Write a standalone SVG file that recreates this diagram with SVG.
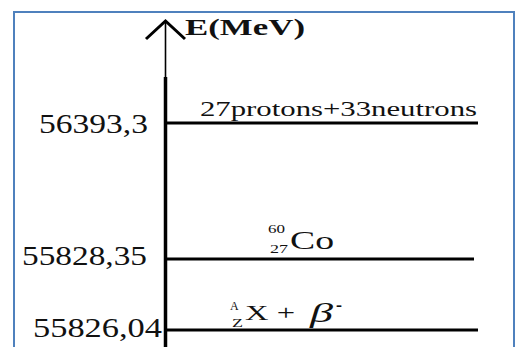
<svg xmlns="http://www.w3.org/2000/svg" width="518" height="347" viewBox="0 0 518 347">
<style>
text{font-family:"Liberation Serif","Times New Roman","DejaVu Serif",serif;fill:#111;}
.lv{stroke:#000;stroke-width:3;fill:none;}
.val{font-size:27px;}
.sm{font-size:12px;}
</style>
<rect x="0" y="0" width="518" height="347" fill="#fff"/>
<rect id="frame" x="14" y="12" width="500" height="345" fill="none" stroke="#4f81bd" stroke-width="2"/>
<g id="connectors">
<line x1="165.5" y1="22" x2="165.5" y2="78" stroke="#000" stroke-width="1.6"/>
<line x1="165.5" y1="77" x2="165.5" y2="347" stroke="#000" stroke-width="3.5"/>
<polyline points="146,39 165.5,21 185,39" fill="none" stroke="#000" stroke-width="3"/>
</g>
<g id="axis-label"><text x="185" y="35" font-size="24" font-weight="bold" textLength="120" lengthAdjust="spacingAndGlyphs">E(MeV)</text></g>
<g id="level-nucleons">
<line class="lv" x1="165" y1="123" x2="478" y2="123"/>
<text x="39" y="133" class="val" textLength="109" lengthAdjust="spacingAndGlyphs">56393,3</text>
<text x="200" y="116" font-size="21" textLength="277" lengthAdjust="spacingAndGlyphs">27protons+33neutrons</text>
</g>
<g id="level-co">
<line class="lv" x1="165" y1="259" x2="474" y2="259"/>
<text x="22" y="265" class="val" textLength="125" lengthAdjust="spacingAndGlyphs">55828,35</text>
<text x="268" y="233" class="sm" textLength="17" lengthAdjust="spacingAndGlyphs">60</text>
<text x="270" y="253" class="sm" textLength="18" lengthAdjust="spacingAndGlyphs">27</text>
<text x="290" y="249" font-size="26" textLength="44" lengthAdjust="spacingAndGlyphs">Co</text>
</g>
<g id="level-x">
<line class="lv" x1="165" y1="330" x2="478" y2="330"/>
<text x="33" y="337" class="val" textLength="129" lengthAdjust="spacingAndGlyphs">55826,04</text>
<text x="230" y="310" class="sm">A</text>
<text x="232" y="327" class="sm" textLength="11" lengthAdjust="spacingAndGlyphs">Z</text>
<text x="245" y="320" font-size="20" textLength="50" lengthAdjust="spacingAndGlyphs">X +</text>
<text x="310" y="322" font-size="28" font-style="italic" textLength="23" lengthAdjust="spacingAndGlyphs">β</text>
<text x="336" y="311" font-size="18" font-weight="bold">-</text>
</g>
</svg>
